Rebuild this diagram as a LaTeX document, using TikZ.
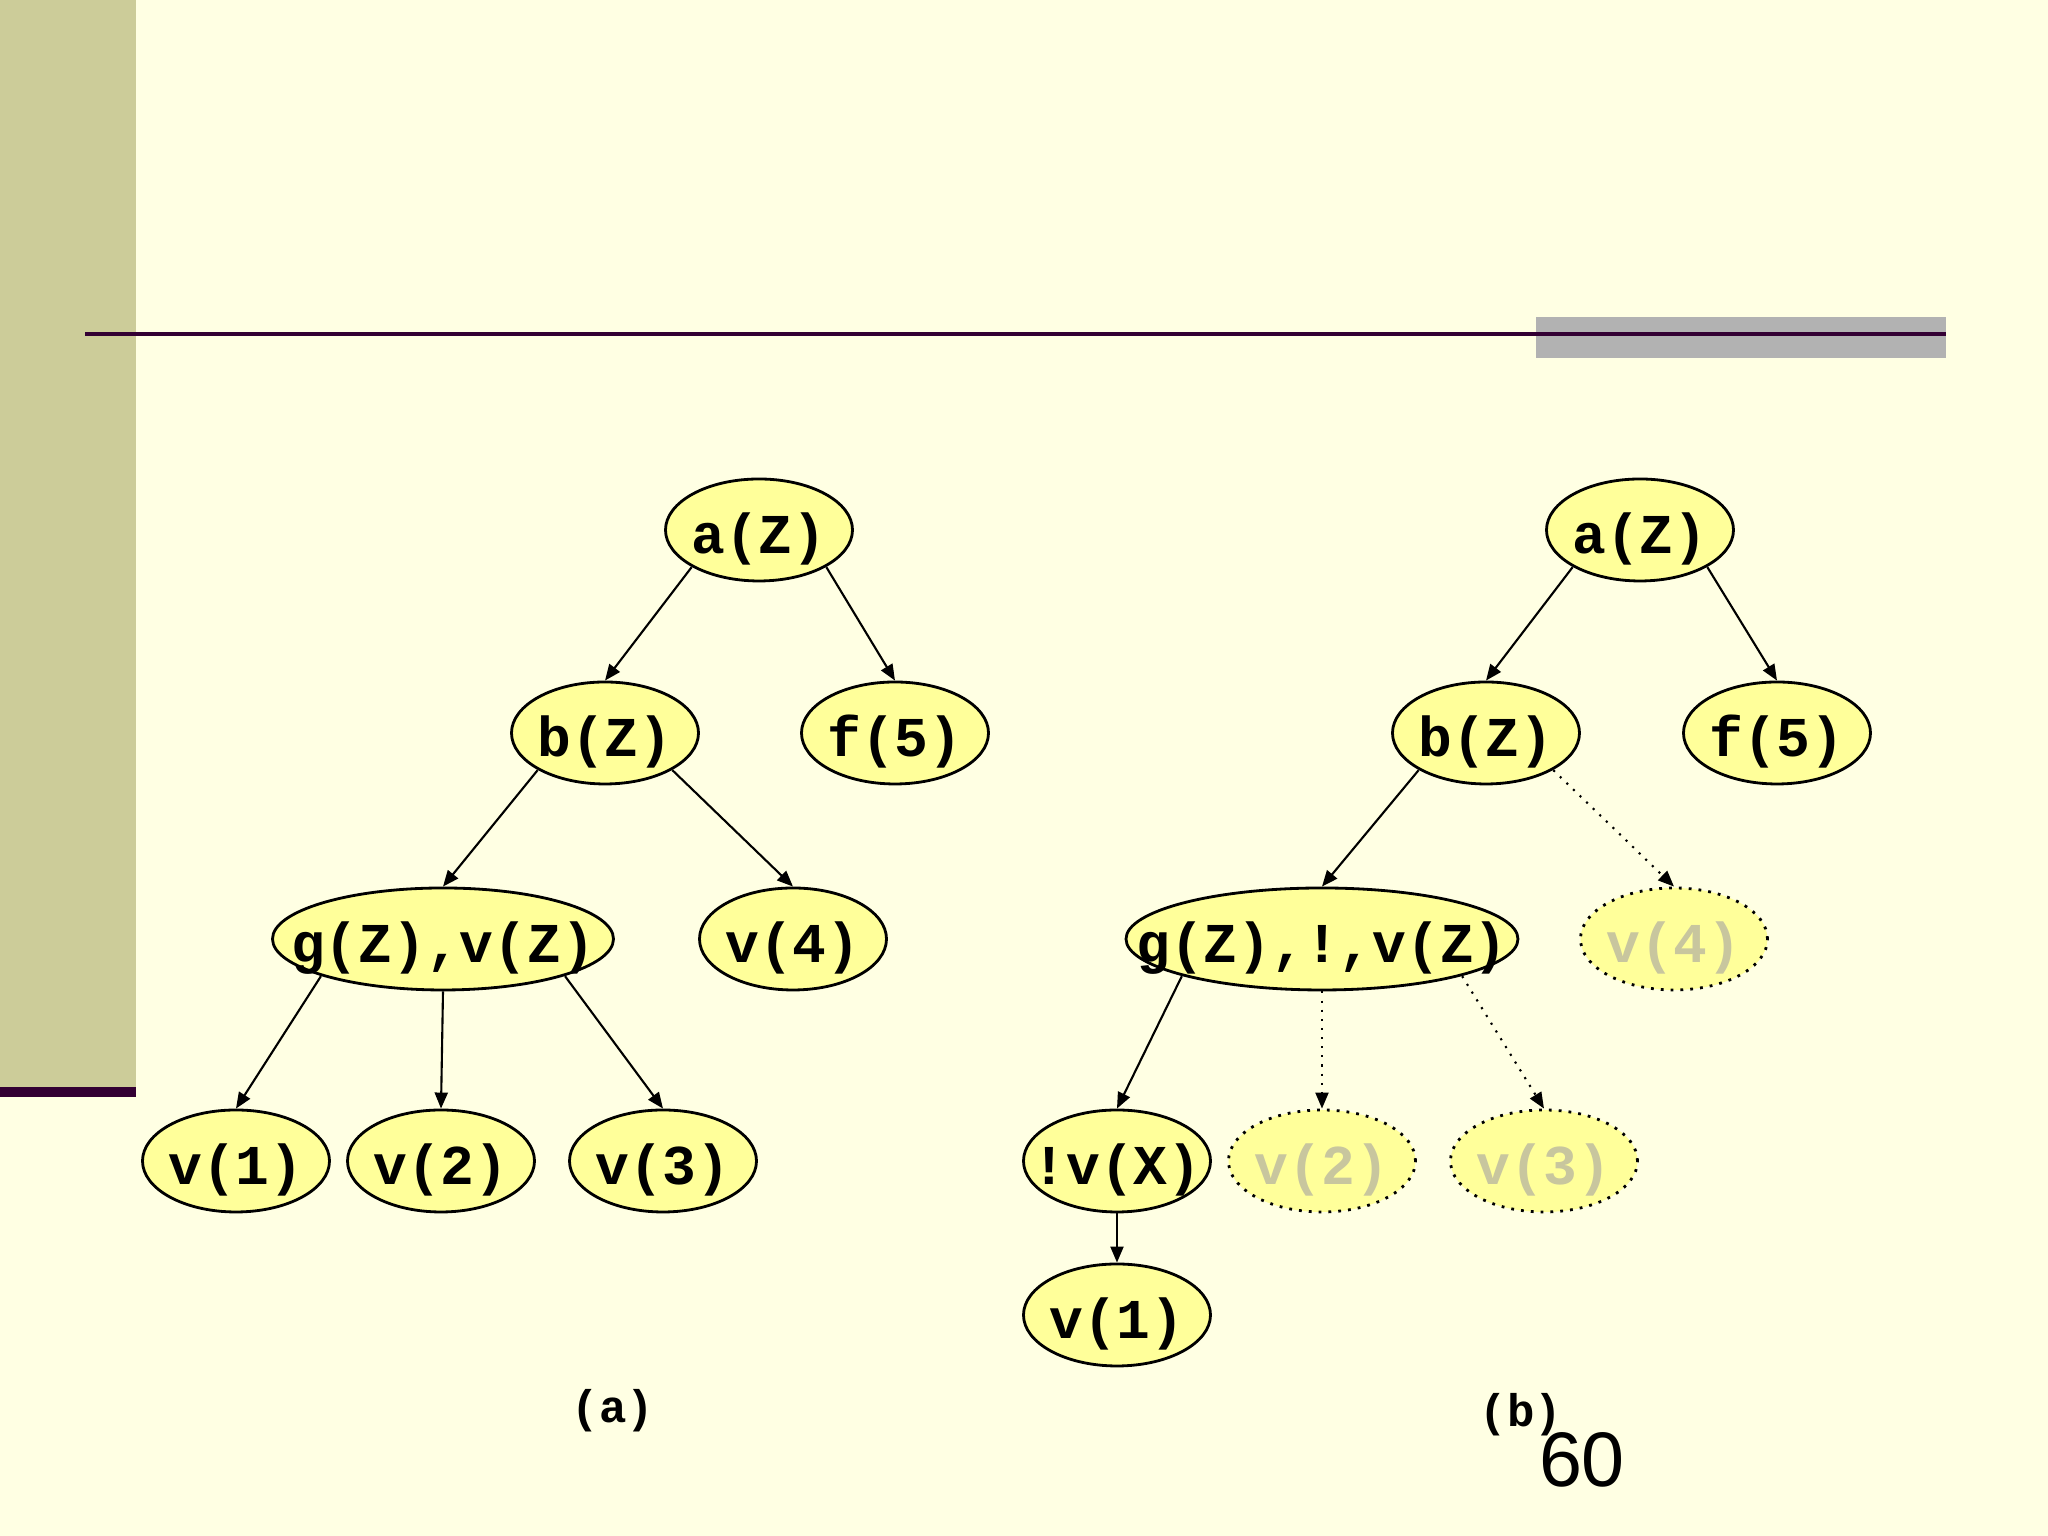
\documentclass[tikz,border=0pt]{standalone}
\usepackage{fontspec}
\setsansfont{Liberation Sans}
\setmonofont{Liberation Mono}
\usetikzlibrary{shapes.geometric,calc,arrows.meta}
\definecolor{slidebg}{RGB}{255,255,227}
\definecolor{sidebar}{RGB}{204,204,153}
\definecolor{rulecol}{RGB}{51,0,51}
\definecolor{graybox}{RGB}{178,178,178}
\definecolor{nodefill}{RGB}{255,255,154}
\definecolor{fadetext}{RGB}{200,198,158}

\begin{document}
\begin{tikzpicture}[
		goal/.style={ellipse,draw,line width=0.8pt,fill=nodefill,inner sep=0pt,
			minimum width=1.87cm,minimum height=1.02cm,text height=0.48cm,text depth=0pt,
			font=\ttfamily\bfseries\fontsize{16}{19}\selectfont,
			execute at begin node={\hbox to 0pt\bgroup\hss},execute at end node={\hss\egroup}},
		cut/.style={goal,dotted,text=fadetext},
		edge/.style={line width=0.6pt,-{Triangle[length=0.16cm,width=0.13cm]}},
		cutedge/.style={edge,dotted}]
		\useasboundingbox (0,0) rectangle (20.48,15.36);
		% slide background
		\fill[slidebg] (0,0) rectangle (20.48,15.36);
		\fill[sidebar] (0,4.49) rectangle (1.36,15.36);
		\fill[rulecol] (0,4.39) rectangle (1.36,4.49);
		\fill[graybox] (15.36,11.78) rectangle (19.46,12.19);
		\draw[rulecol,line width=1.3pt] (0.85,12.02) -- (19.46,12.02);
		% tree (a)
		\node[goal] (aA) at (7.59,10.06) {a(Z)};
		\node[goal] (bA) at (6.05,8.03) {b(Z)};
		\node[goal] (fA) at (8.95,8.03) {f(5)};
		\node[goal,minimum width=3.41cm] (gA) at (4.43,5.97) {g(Z),v(Z)};
		\node[goal] (v4A) at (7.93,5.97) {v(4)};
		\node[goal] (v1A) at (2.36,3.75) {v(1)};
		\node[goal] (v2A) at (4.41,3.75) {v(2)};
		\node[goal] (v3A) at (6.63,3.75) {v(3)};
		% tree (b)
		\node[goal] (aB) at (16.40,10.06) {a(Z)};
		\node[goal] (bB) at (14.86,8.03) {b(Z)};
		\node[goal] (fB) at (17.77,8.03) {f(5)};
		\node[goal,minimum width=3.92cm] (gB) at (13.22,5.97) {g(Z),!,v(Z)};
		\node[cut] (v4B) at (16.74,5.97) {v(4)};
		\node[goal] (nvB) at (11.17,3.75) {!v(X)};
		\node[cut] (v2B) at (13.22,3.75) {v(2)};
		\node[cut] (v3B) at (15.44,3.75) {v(3)};
		\node[goal] (v1B) at (11.17,2.21) {v(1)};
		% connectors, leaving the parent low on its side
		\foreach \P/\C/\Fx/\Fy/\H in {aA/bA/.71/.71/west,aA/fA/.71/.71/east,
			bA/gA/.71/.71/west,bA/v4A/.71/.71/east,gA/v1A/.71/.71/west,
			gA/v2A/0/1/west,gA/v3A/.71/.71/east,aB/bB/.71/.71/west,
			aB/fB/.71/.71/east,bB/gB/.71/.71/west,gB/nvB/.71/.71/west,nvB/v1B/0/1/west}
		\draw[edge] ({$(\P)!\Fx!(\P.\H)$} |- {$(\P)!\Fy!(\P.south)$}) -- (\C.north);
		\foreach \P/\C/\Fx/\Fy/\H in {bB/v4B/.71/.71/east,gB/v2B/0/1/west,gB/v3B/.71/.71/east}
		\draw[cutedge] ({$(\P)!\Fx!(\P.\H)$} |- {$(\P)!\Fy!(\P.south)$}) -- (\C.north);
		% captions
		\node[font=\ttfamily\bfseries\fontsize{13}{16}\selectfont] (capA) at (6.13,1.25) {(a)};
		\node[font=\ttfamily\bfseries\fontsize{13}{16}\selectfont] (capB) at (15.21,1.21) {(b)};
		\node[font=\sffamily\fontsize{22}{26}\selectfont] (page) at (15.82,0.76) {60};
	\end{tikzpicture}
\end{document}
